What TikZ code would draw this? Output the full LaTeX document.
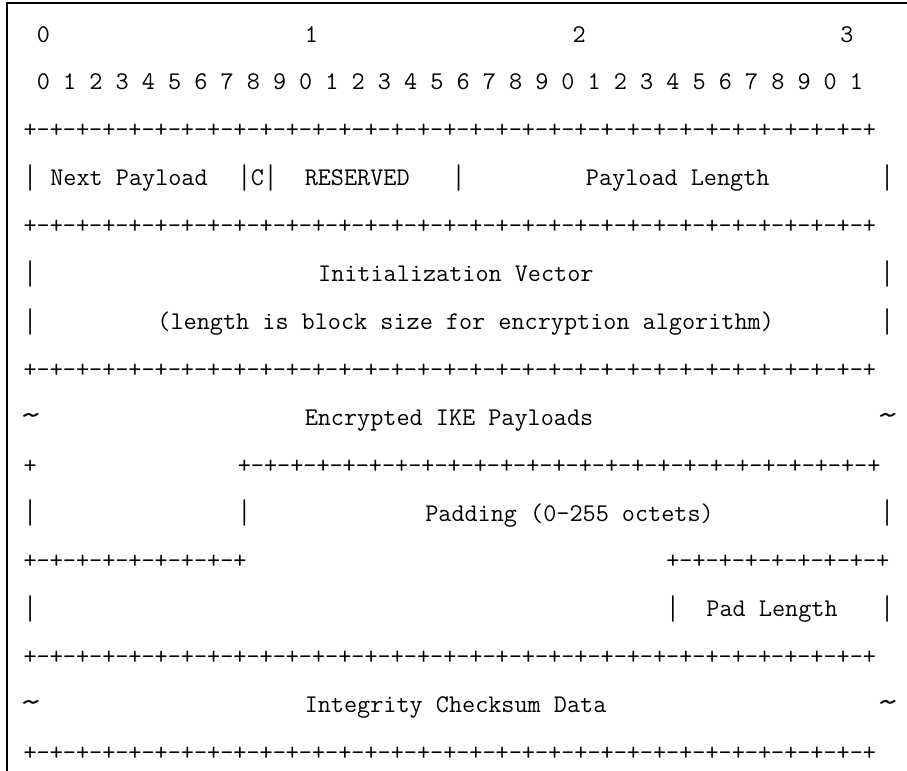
\documentclass[tikz,border=0pt]{standalone}
\usepackage{fontspec}
\usepackage{graphicx}
\usepackage{tikz}

% one row of the ASCII grid: + then #1 times "–+"
\newcommand{\dashbar}[1]{+\foreach \i in {1,...,#1}{–+}}
% taller bar and wider tilde, as in the source font
\newcommand{\vbar}{\raisebox{-2.2pt}{\scalebox{1}[1.35]{|}}}
\newcommand{\wave}{\makebox[0pt]{\scalebox{1.8}[1.3]{\textasciitilde}}}

\tikzset{
  ascii/.style={font=\ttfamily\fontsize{19.1}{20}\selectfont, inner sep=0pt, anchor=base west},
  frame/.style={line width=1.5pt}
}

\begin{document}
\begin{tikzpicture}[x=0.75pt,y=-0.75pt]
\useasboundingbox (0,0) rectangle (907,771);
\draw[frame] (7,771) -- (7,3) -- (907,3);
\begin{scope}[shift={(23.3,42)},x=10.0425pt,y=-35.925pt]
% bit numbers
\node[ascii] (tens) at (1,0) {0};
\node[ascii] (tens1) at (21,0) {1};
\node[ascii] (tens2) at (41,0) {2};
\node[ascii] (tens3) at (61,0) {3};
\node[ascii] (bits) at (1,1) {0 1 2 3 4 5 6 7 8 9 0 1 2 3 4 5 6 7 8 9 0 1 2 3 4 5 6 7 8 9 0 1};
% full separator rows
\foreach \r in {2,4,7,13,15}
  \node[ascii] (sep\r) at (0,\r) {\dashbar{32}};
% generic header
\node[ascii] (hdrL) at (0,3) {\vbar};
\node[ascii] (nextpl) at (2,3) {Next Payload};
\node[ascii] (cflag) at (16,3) {\vbar C\vbar};
\node[ascii] (resvd) at (21,3) {RESERVED};
\node[ascii] (hdrM) at (32,3) {\vbar};
\node[ascii] (pllen) at (42,3) {Payload Length};
\node[ascii] (hdrR) at (64,3) {\vbar};
% IV
\node[ascii] (ivL) at (0,5) {\vbar};
\node[ascii] (iv) at (22,5) {Initialization Vector};
\node[ascii] (ivR) at (64,5) {\vbar};
\node[ascii] (ivL2) at (0,6) {\vbar};
\node[ascii] (ivnote) at (10,6) {(length is block size for encryption algorithm)};
\node[ascii] (ivR2) at (64,6) {\vbar};
% encrypted payloads
\node[ascii] (encL) at (0.5,8) {\wave};
\node[ascii] (enc) at (21,8) {Encrypted IKE Payloads};
\node[ascii] (encR) at (64.5,8) {\wave};
\node[ascii] (padTL) at (0,9) {+};
\node[ascii] (padT) at (16,9) {\dashbar{24}};
% padding
\node[ascii] (padL) at (0,10) {\vbar};
\node[ascii] (padM) at (16,10) {\vbar};
\node[ascii] (pad) at (30,10) {Padding (0-255 octets)};
\node[ascii] (padR) at (64,10) {\vbar};
\node[ascii] (padBL) at (0,11) {\dashbar{8}};
\node[ascii] (padBR) at (48,11) {\dashbar{8}};
% pad length
\node[ascii] (plL) at (0,12) {\vbar};
\node[ascii] (plM) at (48,12) {\vbar};
\node[ascii] (padlen) at (51,12) {Pad Length};
\node[ascii] (plR) at (64,12) {\vbar};
% ICV
\node[ascii] (icvL) at (0.5,14) {\wave};
\node[ascii] (icv) at (21,14) {Integrity Checksum Data};
\node[ascii] (icvR) at (64.5,14) {\wave};
\end{scope}
\end{tikzpicture}
\end{document}
